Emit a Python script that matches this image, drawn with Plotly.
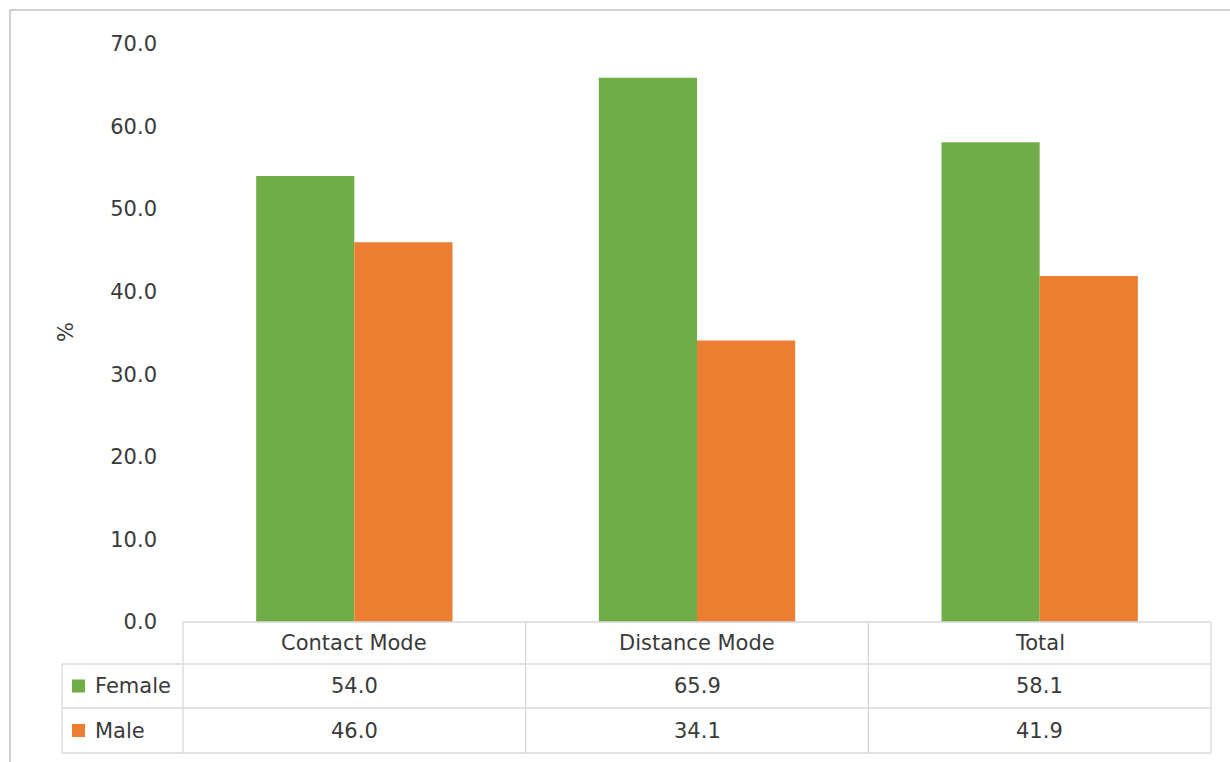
import plotly.graph_objects as go

# Share of learners by gender and mode of study (%)
categories = ["Contact Mode", "Distance Mode", "Total"]
series_names = ["Female", "Male"]
female = [54.0, 65.9, 58.1]
male = [46.0, 34.1, 41.9]
y_ticks = [0, 10, 20, 30, 40, 50, 60, 70]

colors = {"Female": "#70AD47", "Male": "#ED7D31"}
values = {"Female": female, "Male": male}

W, H = 1230, 762
FONT = "DejaVu Sans"
FSIZE = 21
TEXT = "#3A3A3A"
GRID = "#D9D9D9"

# pixel geometry of plot area and data table
x_left, x_right = 183, 1211
y_top, y_zero = 44, 622
row_edges = [622, 664, 708, 753]
label_left = 62


def px(x):
    return x / W


def py(y):
    return 1 - y / H


fig = go.Figure()
for name in series_names:
    fig.add_trace(go.Bar(
        x=categories, y=values[name], name=name,
        marker=dict(color=colors[name], line=dict(width=0)),
        showlegend=False, hoverinfo="x+y+name",
    ))

shapes = []
line = dict(color=GRID, width=1.3)
# outer chart border (top and left)
shapes.append(dict(type="line", xref="paper", yref="paper",
                   x0=px(10), x1=1, y0=py(10), y1=py(10),
                   line=dict(color="#BFBFBF", width=1.5)))
shapes.append(dict(type="line", xref="paper", yref="paper",
                   x0=px(10), x1=px(10), y0=py(10), y1=0,
                   line=dict(color="#BFBFBF", width=1.5)))

# data table grid
n = len(categories)
col_w = (x_right - x_left) / n
for i in range(n + 1):
    xv = x_left + i * col_w
    shapes.append(dict(type="line", xref="paper", yref="paper",
                       x0=px(xv), x1=px(xv), y0=py(row_edges[0]), y1=py(row_edges[-1]),
                       line=line))
shapes.append(dict(type="line", xref="paper", yref="paper",
                   x0=px(label_left), x1=px(label_left),
                   y0=py(row_edges[1]), y1=py(row_edges[-1]), line=line))
shapes.append(dict(type="line", xref="paper", yref="paper",
                   x0=px(x_left), x1=px(x_right),
                   y0=py(row_edges[0]), y1=py(row_edges[0]), line=line))
for ye in row_edges[1:]:
    shapes.append(dict(type="line", xref="paper", yref="paper",
                       x0=px(label_left), x1=px(x_right), y0=py(ye), y1=py(ye),
                       line=line))

font = dict(family=FONT, size=FSIZE, color=TEXT)
annotations = []
# column headers
for cat in categories:
    annotations.append(dict(x=cat, y=py((row_edges[0] + row_edges[1]) / 2),
                            xref="x", yref="paper", text=cat, showarrow=False,
                            xanchor="center", yanchor="middle", font=font))
# series rows: legend key + values
for r, name in enumerate(series_names):
    yc = py((row_edges[r + 1] + row_edges[r + 2]) / 2)
    shapes.append(dict(type="rect", xref="paper", yref="paper",
                       x0=px(72), x1=px(85), y0=yc - 6.5 / H, y1=yc + 6.5 / H,
                       fillcolor=colors[name], line=dict(width=0)))
    annotations.append(dict(x=px(93), y=yc, xref="paper", yref="paper",
                            text=name, showarrow=False, xanchor="left",
                            yanchor="middle", font=font))
    for cat, v in zip(categories, values[name]):
        annotations.append(dict(x=cat, y=yc, xref="x", yref="paper",
                                text=f"{v:.1f}", showarrow=False,
                                xanchor="center", yanchor="middle", font=font))

# y-axis title
annotations.append(dict(x=px(66), y=py(332), xref="paper", yref="paper",
                        text="%", showarrow=False, textangle=-90,
                        xanchor="center", yanchor="middle", font=font))

fig.update_layout(
    width=W, height=H,
    margin=dict(l=0, r=0, t=0, b=0, pad=0, autoexpand=False),
    paper_bgcolor="white", plot_bgcolor="white",
    barmode="group", bargap=0.427, bargroupgap=0,
    xaxis=dict(domain=[px(x_left), px(x_right)], showticklabels=False,
               showline=False, showgrid=False, zeroline=False, ticks="",
               automargin=False),
    yaxis=dict(domain=[py(y_zero), py(y_top)], range=[0, 70],
               tickvals=y_ticks, ticktext=[f"{t:.1f}" for t in y_ticks],
               showgrid=False, zeroline=False, showline=False, ticks="",
               ticklabelstandoff=25, automargin=False,
               tickfont=font),
    shapes=shapes, annotations=annotations,
)

fig.write_html("out.html")
